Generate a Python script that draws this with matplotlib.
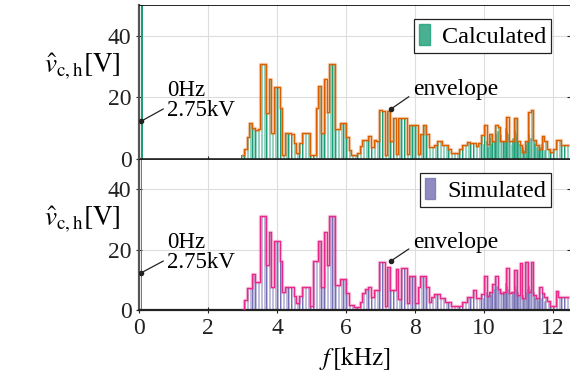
import numpy as np
import matplotlib
matplotlib.use("Agg")
import matplotlib.pyplot as plt
from matplotlib.patches import Patch

plt.rcParams['font.family'] = ['Liberation Serif', 'DejaVu Serif']
plt.rcParams['mathtext.fontset'] = 'stix'

# harmonic spectrum, frequency in kHz (grid of harmonic bins from 3 kHz)
f_start = 3.0
f_step = 0.08
calc_amp = [1.3, 3.2, 7.3, 11.8, 10, 9.5, 9.8, 31, 31, 15,
            26, 8.6, 23.5, 23.5, 16.7, 1.3, 8.5, 8.5, 8.0, 5.2,
            2, 5.2, 8.5, 8.5, 8.4, 1.3, 1.3, 16.5, 23.6, 8.4,
            26, 15.2, 31, 31, 9.8, 9.8, 11.8, 11.8, 7.3, 3.0,
            1.3, 1.3, 2.1, 4.3, 6.2, 6.2, 7.5, 4.0, 6.2, 6,
            16, 15.5, 1.3, 15.5, 5.8, 13.2, 1.8, 13.2, 13.2, 13.2,
            1.8, 11, 11, 11, 1.8, 8.2, 11, 8.2, 4, 4,
            4.6, 5.8, 5.8, 4.5, 4.6, 3.2, 1.9, 1.9, 1.9, 3.2,
            4.6, 4.6, 5.7, 5.2, 5.2, 4.1, 5.2, 7.8, 11, 4.9,
            8.3, 5.9, 11, 10.5, 6, 5.9, 13.8, 5.9, 5.9, 13.3,
            5.9, 4.6, 2.3, 5.9, 15.4, 15.9, 6.3, 4.5, 3.4, 7.4,
            5.8, 3.4, 2.3, 3.4, 6.3, 6.3, 4.6, 4.6, 4.6]
sim_amp = [0, 3.3, 7.2, 7.2, 11.8, 9.4, 9.4, 31, 31, 14.9,
           25.9, 7.7, 23, 23, 16.2, 6, 7.7, 7.7, 7.7, 4.7,
           2.2, 4.7, 7.7, 7.7, 7.5, 1.3, 16.3, 16.3, 23, 7.7,
           25.9, 15, 31, 31, 8.3, 8.3, 10.4, 10.4, 5.7, 1.7,
           1.7, 0.9, 0.9, 2.8, 5.7, 6.8, 7.5, 4.4, 6.6, 6.6,
           16, 16, 1.3, 14.3, 6.6, 6.6, 13.5, 3.5, 13.8, 13.8,
           2.4, 11.2, 11.2, 2.4, 7.5, 11.2, 11.2, 7.5, 2.6, 4.4,
           5.2, 5.2, 3.9, 3.9, 2.8, 2.8, 1.4, 1.4, 1.4, 1.4,
           2.8, 2.8, 4.4, 4.4, 6.6, 3.9, 3.9, 5.2, 11.2, 4.8,
           6, 8.5, 11.2, 7, 5.5, 6, 13.8, 5.5, 6, 13.3,
           5, 15.5, 4, 16, 6, 16, 5, 4, 7.5, 5.8,
           4.2, 3, 1.4, 1.4, 6.2, 4.4, 4.4, 4.4, 4.4]

# sideband components in the 10-12 kHz region
side_freq = [9.92, 9.98, 10.07, 10.10, 10.17, 10.23, 10.31, 10.34, 10.40, 10.47,
             10.50, 10.56, 10.63, 10.66, 10.72, 10.79, 10.82, 10.88, 10.95, 10.98,
             11.04, 11.11, 11.14, 11.20, 11.27, 11.30, 11.36, 11.43, 11.46, 11.52,
             11.59, 11.62, 11.68, 11.75]
side_calc = [3, 5, 6, 4, 7, 5, 6, 8, 9, 7, 8, 6, 10, 9, 8, 5, 7, 9, 8, 6,
             5, 4, 3, 5, 6, 8, 7, 6, 5, 4, 3, 4, 5, 3]
side_sim = [3, 4, 6, 5, 6, 5, 7, 8, 8, 6, 7, 6, 9, 8, 7, 5, 6, 8, 7, 6,
            5, 5, 4, 6, 7, 8, 7, 6, 4, 4, 3, 4, 4, 3]

dc_kv = 2.75

green, orange = '#1b9e77', '#d95f02'
purple, pink = '#7570b3', '#e7298a'

freq = f_start + f_step * np.arange(len(calc_amp))

fig = plt.figure(figsize=(5.70, 3.88), dpi=100)
ax1 = fig.add_axes([0.244, 0.590, 0.756, 0.397])
ax2 = fig.add_axes([0.244, 0.201, 0.756, 0.389], sharex=ax1)


def panel(ax, amp, side, col, env_col, label, dc_f, dc_w):
    ax.bar(freq, amp, width=0.06, color=col, alpha=0.45, lw=0, zorder=2)
    ax.bar(freq - 0.024, amp, width=0.013, color=col, lw=0, zorder=2)
    ax.bar(side_freq, side, width=0.025, color=col, alpha=0.6, edgecolor=col, lw=0.5, zorder=2)
    ax.bar([dc_f], [dc_kv * 1000], width=dc_w, color=col, zorder=2)
    ax.step(freq, amp, where='mid', color=env_col, lw=2.4, alpha=0.3, zorder=3)
    ax.step(freq, amp, where='mid', color=env_col, lw=0.9, zorder=3)

    ax.set_xlim(0, 12.5)
    ax.set_ylim(0, 50)
    ax.set_yticks([0, 20, 40])
    ax.set_xticks(range(0, 13, 2))
    ax.grid(True, color='#dddddd', lw=0.8, zorder=0)
    ax.set_axisbelow(True)
    ax.tick_params(direction='inout', length=4, labelsize=17, colors='#222222',
                   right=True, top=False)
    ax.spines['left'].set_color('#555555')
    ax.spines['left'].set_linewidth(1.6)
    ax.spines['bottom'].set_color('#222222')
    ax.spines['bottom'].set_linewidth(1.2)
    ax.spines['top'].set_linewidth(0.6)
    ax.spines['right'].set_linewidth(0.6)

    ax.set_ylabel(r'$\hat{v}_{\mathrm{c,h}}[\mathrm{V}]$', fontsize=19.5, rotation=0, va='center')
    ax.yaxis.set_label_coords(-0.132, 0.6)

    ax.plot([0.06], [12.3], 'o', color='#222222', ms=3, zorder=5)
    ax.annotate('0Hz\n2.75kV', xy=(0.06, 12.3), xytext=(0.82, 19), fontsize=16.5,
                ha='left', va='center', linespacing=0.95,
                arrowprops=dict(arrowstyle='-', color='#222222', lw=0.9,
                                shrinkA=1, shrinkB=0, relpos=(0, 0.35)))
    ax.plot([7.3], [16.2], 'o', color='#222222', ms=3, zorder=5)
    ax.annotate('envelope', xy=(7.3, 16.2), xytext=(7.94, 22.5), fontsize=17,
                ha='left', va='center',
                arrowprops=dict(arrowstyle='-', color='#222222', lw=0.9,
                                shrinkA=1, shrinkB=0, relpos=(0, 0.3)))

    handle = Patch(facecolor=col, edgecolor=col, alpha=0.8)
    leg = ax.legend([handle], [label], loc='upper right', fontsize=17.5,
                    fancybox=False, edgecolor='#222222', framealpha=1,
                    handlelength=0.45, handleheight=1.0, handletextpad=0.5,
                    borderpad=0.2, bbox_to_anchor=(0.985, 0.99))
    leg.get_frame().set_linewidth(0.9)


panel(ax1, calc_amp, side_calc, green, orange, 'Calculated', 0.08, 0.07)
panel(ax2, sim_amp, side_sim, purple, pink, 'Simulated', 0.06, 0.03)

plt.setp(ax1.get_xticklabels(), visible=False)
ax2.set_xlabel(r'$f\,[\mathrm{kHz}]$', fontsize=18)
ax2.spines['bottom'].set_linewidth(1.6)

fig.savefig('out.png', dpi=100)
